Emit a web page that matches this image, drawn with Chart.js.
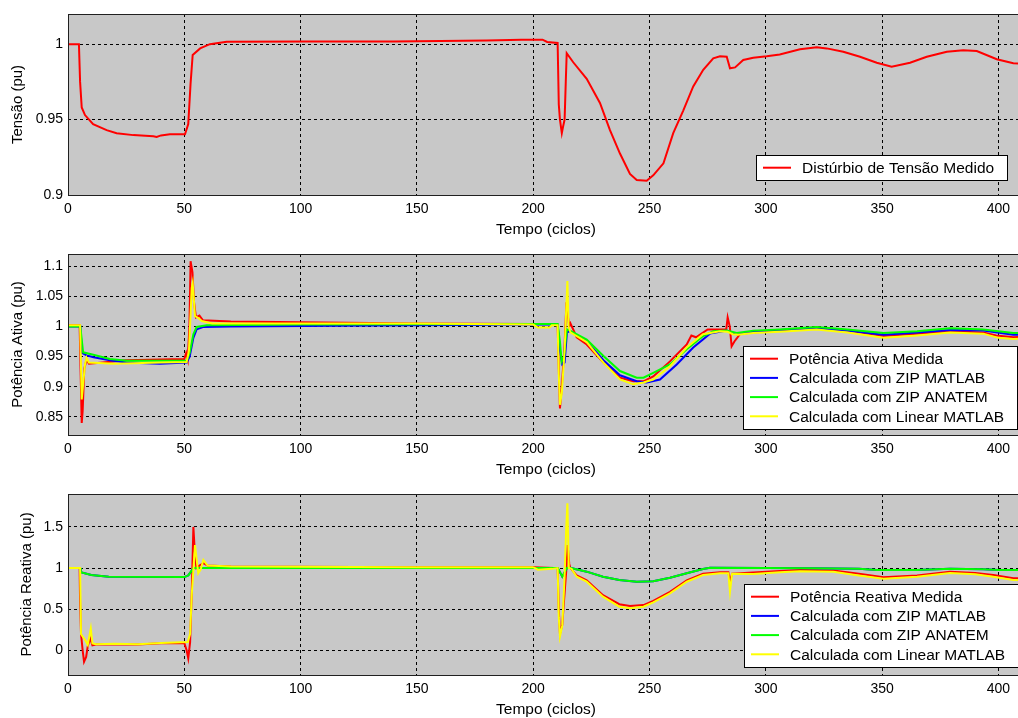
<!DOCTYPE html>
<html>
<head>
<meta charset="utf-8">
<script src="https://cdn.jsdelivr.net/npm/chart.js@4.4.1/dist/chart.umd.min.js"></script>
<style>
  html, body { margin: 0; padding: 0; background: #fff; overflow: hidden; }
  #figura { position: relative; width: 1018px; height: 718px; overflow: hidden; }
  #figura canvas { position: absolute; left: 0; }
</style>
</head>
<body>
<div id="figura">
  <canvas id="graficoTensao" width="1024" height="240" style="top:0px"></canvas>
  <canvas id="graficoAtiva" width="1024" height="240" style="top:240px"></canvas>
  <canvas id="graficoReativa" width="1024" height="240" style="top:480px"></canvas>
</div>
<script>
// Eixo do tempo (ciclos), comum aos três gráficos
const ticksTempo = [0, 50, 100, 150, 200, 250, 300, 350, 400];

// Marcas dos eixos verticais
const ticksTensao = [0.9, 0.95, 1];
const ticksAtiva = [0.85, 0.9, 0.95, 1, 1.05, 1.1];
const ticksReativa = [0, 0.5, 1, 1.5];

// Distúrbio de tensão medido: [ciclo, pu]
const tensaoMedida = [[0,1.0],[4.7,1.0],[5.2,0.975],[5.9,0.958],[7.3,0.953],[10.8,0.947],[16.6,0.943],[20.9,0.941],[28.1,0.9397],
  [36.7,0.939],[38.1,0.9385],[40,0.9395],[43.8,0.9403],[50.3,0.9403],[51.7,0.947],[52.7,0.974],[53.6,0.9928],[56.8,0.9972],
  [61,1.0],[68.2,1.0016],[103,1.0018],[140,1.0018],[180,1.0025],[195,1.003],[204,1.003],[206,1.0015],[210.5,1.0008],
  [211,0.96],[211.5,0.95],[212.3,0.941],[212.8,0.945],[213.5,0.95],[214,0.975],[214.4,0.994],[217.2,0.988],[223,0.977],
  [228.7,0.961],[233,0.943],[237.3,0.9275],[241.6,0.914],[244.5,0.910],[248.8,0.9095],[251.6,0.913],[256,0.921],[260.2,0.941],
  [264.5,0.956],[268.8,0.972],[273.1,0.983],[277.4,0.9906],[280.3,0.992],[283.2,0.9917],[284.6,0.984],[286.8,0.9846],
  [290.3,0.9895],[294.6,0.991],[300.4,0.992],[306,0.9932],[314.7,0.9966],[321.9,0.998],[326.2,0.9972],[333.3,0.995],
  [340.5,0.9917],[347.7,0.9877],[354.1,0.985],[362,0.9877],[369.2,0.9917],[377.8,0.995],[384.9,0.996],[390.7,0.9955],
  [399.3,0.990],[406.4,0.9873],[411,0.987]];

// Potência ativa (pu)
const ativaMedida = [[0,1.002],[5.0,1.002],[5.4,0.93],[5.9,0.84],[6.3,0.86],[7.0,0.93],[8.0,0.945],[9,0.938],[15,0.940],
  [25,0.944],[40,0.945],[50,0.946],[50.8,0.956],[51.5,0.945],[52.2,1.0],[52.7,1.108],[53.5,1.09],[54.2,1.04],[55,1.015],
  [56.5,1.018],[58,1.01],[70,1.008],[100,1.007],[150,1.005],[200,1.004],[209,1.004],[210.5,1.002],[211,0.93],[211.5,0.864],
  [212.3,0.90],[213.5,0.97],[214.3,1.04],[214.8,1.02],[215.5,1.0],[216,1.005],[218.7,0.982],[223,0.970],[230.2,0.940],
  [237.3,0.915],[243,0.909],[247.4,0.909],[251.6,0.917],[258.8,0.942],[266,0.970],[268,0.985],[270,0.982],[275,0.995],
  [283,0.995],[283.6,1.015],[284.5,1.0],[285.3,0.967],[286.5,0.975],[287.5,0.98],[289,0.988],[294.6,0.990],[306,0.993],
  [321.8,0.998],[335,0.993],[350.6,0.984],[365,0.988],[379.2,0.992],[393.5,0.990],[399,0.985],[406.4,0.982],[411,0.983]];
const ativaZipMatlab = [[0,1.0],[5.3,1.0],[6,0.956],[8,0.952],[11,0.949],[18,0.944],[25,0.940],[39.5,0.938],[51,0.940],
  [52.3,0.950],[53.9,0.981],[55.3,0.995],[58,0.999],[70,1.0],[150,1.002],[200,1.003],[210.5,1.003],[211.5,0.96],[212.5,0.937],
  [213.5,0.94],[214.5,0.99],[215.8,0.992],[223,0.975],[230.2,0.944],[237.3,0.919],[244.5,0.909],[248.8,0.907],[254.5,0.912],
  [261.7,0.937],[268.8,0.965],[276,0.988],[283.2,0.993],[287.5,0.987],[294.6,0.991],[306,0.994],[321.8,0.997],[335,0.993],
  [350.6,0.986],[365,0.990],[379.2,0.994],[393.5,0.993],[406.4,0.986],[411,0.986]];
const ativaZipAnatem = [[0,1.0],[5.3,1.0],[5.9,0.978],[6.5,0.957],[10.9,0.953],[18,0.946],[25.2,0.943],[51,0.943],[52.3,0.956],
  [53.9,0.987],[55.3,0.999],[59.6,1.002],[100,1.003],[200,1.004],[210.5,1.004],[211.5,0.975],[212.2,0.942],[213.2,0.95],
  [214.5,0.995],[215.8,0.993],[223,0.978],[230.2,0.951],[237.3,0.926],[244.5,0.915],[247.4,0.915],[251.6,0.923],[258.8,0.937],
  [266,0.962],[273.1,0.984],[277.4,0.992],[283.2,0.993],[287.5,0.989],[294.6,0.993],[306,0.995],[321.8,0.999],[335,0.995],
  [350.6,0.989],[365,0.992],[379.2,0.997],[393.5,0.995],[406.4,0.989],[411,0.989]];
const ativaLinearMatlab = [[0,1.002],[5.2,1.002],[5.9,0.879],[7.3,0.937],[8.0,0.948],[9,0.940],[20,0.938],[40,0.940],[51,0.941],
  [52,0.96],[53.2,1.064],[53.6,1.072],[54.6,1.017],[56,1.014],[57.5,1.009],[62,1.005],[150,1.005],[200,1.003],[202,0.998],
  [207,0.998],[208,1.002],[210.5,1.002],[211,0.92],[211.5,0.870],[212.3,0.89],[213.5,0.96],[214.2,1.03],[214.7,1.075],
  [215.2,1.0],[216,0.99],[218.7,0.984],[223,0.974],[230.2,0.940],[237.3,0.912],[243,0.904],[247.4,0.907],[251.6,0.912],
  [258.8,0.934],[266,0.965],[273,0.987],[280.3,0.992],[283.5,0.991],[285.9,0.987],[288,0.986],[294.6,0.989],[306,0.991],
  [321.8,0.995],[335,0.990],[350.6,0.981],[365,0.985],[379.2,0.990],[393.5,0.988],[400,0.981],[406.4,0.979],[411,0.98]];

// Potência reativa (pu)
const reativaMedida = [[0,1.0],[5.0,1.0],[5.2,0.59],[5.6,0.2],[6.3,0.0],[6.9,-0.138],[7.8,-0.08],[8.5,0.05],[9.5,0.15],
  [10.5,0.06],[12,0.07],[20,0.075],[30,0.07],[40,0.085],[50,0.09],[51,0.0],[51.7,-0.097],[52.5,0.1],[53.2,0.7],[53.9,1.5],
  [54.5,1.2],[55.2,1.0],[56,1.02],[58.2,1.06],[60,1.03],[70,1.02],[150,1.01],[200,1.01],[209,1.0],[210.5,1.0],[211,0.5],
  [211.5,0.2],[212.5,0.31],[213.5,0.7],[214.3,1.0],[214.8,1.28],[215.5,1.05],[216,1.0],[218.7,0.91],[223,0.85],[230,0.67],
  [237,0.56],[241.6,0.54],[247.4,0.55],[251.6,0.60],[258.8,0.71],[266,0.85],[273,0.93],[280.3,0.95],[283.9,0.95],
  [284.6,0.834],[285.5,0.93],[294.6,0.945],[306,0.965],[314.7,0.976],[329,0.97],[340,0.93],[350.6,0.887],[365,0.91],
  [379.2,0.956],[390,0.94],[397.8,0.915],[406.4,0.875],[411,0.875]];
const reativaZipAnatem = [[0,1.0],[5.2,1.0],[5.5,0.948],[10,0.915],[17.5,0.895],[50,0.89],[51.7,0.91],[54,1.0],[60,1.0],
  [150,1.0],[200,1.0],[210.5,1.0],[211.5,0.95],[212.5,0.895],[213.5,0.95],[214.5,1.0],[215.8,1.004],[223,0.956],[230,0.895],
  [237,0.855],[244.5,0.834],[251.6,0.84],[258.8,0.883],[266,0.936],[273,0.988],[276,1.004],[300,1.0],[320,0.997],[340,0.99],
  [347.7,0.976],[365,0.976],[379.2,0.99],[393.5,0.985],[400,0.976],[411,0.976]];
// a curva azul (ZIP MATLAB) fica toda escondida sob a verde na figura
const reativaZipMatlab = reativaZipAnatem;
const reativaLinearMatlab = [[0,1.0],[5.2,1.0],[5.6,0.195],[7.5,0.12],[8.5,0.065],[9.8,0.267],[10.5,0.085],[12,0.075],[20,0.08],
  [30,0.075],[40,0.09],[51.5,0.1],[52.5,0.2],[53.2,0.672],[54.6,1.28],[56,0.936],[57,0.98],[58.2,1.098],[60,1.03],[70,1.02],
  [150,1.01],[200,1.01],[202,0.98],[208,0.99],[210.5,1.0],[211,0.4],[211.5,0.166],[212.5,0.3],[213.5,0.9],[214.2,1.5],
  [214.7,1.787],[215.3,1.0],[216.5,0.99],[218.7,0.895],[223,0.834],[230,0.652],[237,0.53],[241.6,0.511],[247.4,0.53],
  [251.6,0.583],[258.8,0.693],[266,0.834],[273,0.915],[280.3,0.936],[283.9,0.936],[284.6,0.712],[285.5,0.93],[294.6,0.928],
  [306,0.948],[314.7,0.96],[329,0.955],[340,0.91],[350.6,0.87],[365,0.895],[379.2,0.94],[390,0.925],[397.8,0.895],
  [406.4,0.855],[411,0.855]];

Chart.defaults.font.family = '"Liberation Sans", Arial, Helvetica, sans-serif';
Chart.defaults.color = '#000';

// Fundo cinza, moldura e legenda no estilo do MATLAB
const estiloMatlab = {
  id: 'estiloMatlab',
  beforeDraw(chart) {
    const a = chart.chartArea, ctx = chart.ctx;
    ctx.save();
    ctx.fillStyle = '#c8c8c8';
    ctx.fillRect(a.left, a.top, a.right - a.left, a.bottom - a.top);
    ctx.restore();
  },
  afterDatasetsDraw(chart, args, opts) {
    const a = chart.chartArea, ctx = chart.ctx;
    ctx.save();
    ctx.strokeStyle = '#202020';
    ctx.lineWidth = 1;
    ctx.strokeRect(Math.round(a.left) + 0.5, Math.round(a.top) + 0.5, Math.round(a.right - a.left), Math.round(a.bottom - a.top));

    // Legenda
    const dados = chart.data.datasets;
    ctx.font = '15.5px "Liberation Sans", Arial, sans-serif';
    const largTexto = Math.max(...dados.map(d => ctx.measureText(d.label).width));
    const x0 = opts.esquerda, y0 = opts.topo;
    const w = Math.round(46 + largTexto + 13);
    const h = Math.round(25.4 + (dados.length - 1) * 19.2);
    ctx.fillStyle = '#fff';
    ctx.fillRect(x0, y0, w, h);
    ctx.strokeStyle = '#000';
    ctx.strokeRect(x0 + 0.5, y0 + 0.5, w, h);
    ctx.textBaseline = 'middle';
    ctx.textAlign = 'left';
    dados.forEach((d, i) => {
      const yl = y0 + 12.7 + i * 19.2;
      ctx.strokeStyle = d.borderColor;
      ctx.lineWidth = 2;
      ctx.beginPath();
      ctx.moveTo(x0 + 7, yl);
      ctx.lineTo(x0 + 35, yl);
      ctx.stroke();
      ctx.fillStyle = '#000';
      ctx.fillText(d.label, x0 + 46, yl + 1);
    });
    ctx.restore();
  }
};

function serie(rotulo, pontos, cor, ordem) {
  return {
    label: rotulo,
    data: pontos.map(([x, y]) => ({ x, y })),
    borderColor: cor,
    backgroundColor: cor,
    borderWidth: 2,
    pointRadius: 0,
    tension: 0,
    order: ordem
  };
}

function criarGrafico(id, datasets, eixo, legenda) {
  const ctx = document.getElementById(id).getContext('2d');
  return new Chart(ctx, {
    type: 'line',
    data: { datasets: datasets },
    options: {
      responsive: false,
      animation: false,
      layout: { padding: { top: 14, right: 0, bottom: 0, left: 0 } },
      plugins: {
        legend: { display: false },
        tooltip: { enabled: false },
        estiloMatlab: legenda
      },
      scales: {
        x: {
          type: 'linear',
          min: 0,
          max: 411,
          afterBuildTicks: s => { s.ticks = ticksTempo.map(v => ({ value: v })); },
          afterFit: s => { s.height = 45; },
          grid: { color: '#000', lineWidth: 1, drawTicks: false },
          border: { display: false, dash: [3, 3] },
          ticks: { padding: 6, font: { size: 14 }, maxRotation: 0, autoSkip: false },
          title: { display: true, text: 'Tempo (ciclos)', font: { size: 15.5 }, padding: { top: 0, bottom: 1 } }
        },
        y: {
          type: 'linear',
          min: eixo.min,
          max: eixo.max,
          afterBuildTicks: s => { s.ticks = eixo.ticks.map(v => ({ value: v })); },
          afterFit: s => { s.width = 68; },
          grid: { color: '#000', lineWidth: 1, drawTicks: false },
          border: { display: false, dash: [3, 3] },
          ticks: { padding: 5, font: { size: 14 }, callback: v => String(v) },
          title: { display: true, text: eixo.titulo, font: { size: 15 }, padding: { top: eixo.afastamento, bottom: 0 } }
        }
      }
    },
    plugins: [estiloMatlab]
  });
}

window.addEventListener('load', function() {
  criarGrafico('graficoTensao',
    [serie('Distúrbio de Tensão Medido', tensaoMedida, '#ff0000', 1)],
    { min: 0.9, max: 1.02, ticks: ticksTensao, titulo: 'Tensão (pu)', afastamento: 9 },
    { esquerda: 756, topo: 155 });

  criarGrafico('graficoAtiva',
    [serie('Potência Ativa Medida', ativaMedida, '#ff0000', 4),
     serie('Calculada com ZIP MATLAB', ativaZipMatlab, '#0000ff', 3),
     serie('Calculada com ZIP ANATEM', ativaZipAnatem, '#00ff00', 2),
     serie('Calculada com Linear MATLAB', ativaLinearMatlab, '#ffff00', 1)],
    { min: 0.82, max: 1.12, ticks: ticksAtiva, titulo: 'Potência Ativa (pu)', afastamento: 9 },
    { esquerda: 743, topo: 106 });

  criarGrafico('graficoReativa',
    [serie('Potência Reativa Medida', reativaMedida, '#ff0000', 4),
     serie('Calculada com ZIP MATLAB', reativaZipMatlab, '#0000ff', 3),
     serie('Calculada com ZIP ANATEM', reativaZipAnatem, '#00ff00', 2),
     serie('Calculada com Linear MATLAB', reativaLinearMatlab, '#ffff00', 1)],
    { min: -0.3, max: 1.9, ticks: ticksReativa, titulo: 'Potência Reativa (pu)', afastamento: 18 },
    { esquerda: 744, topo: 104 });
});
</script>
</body>
</html>
